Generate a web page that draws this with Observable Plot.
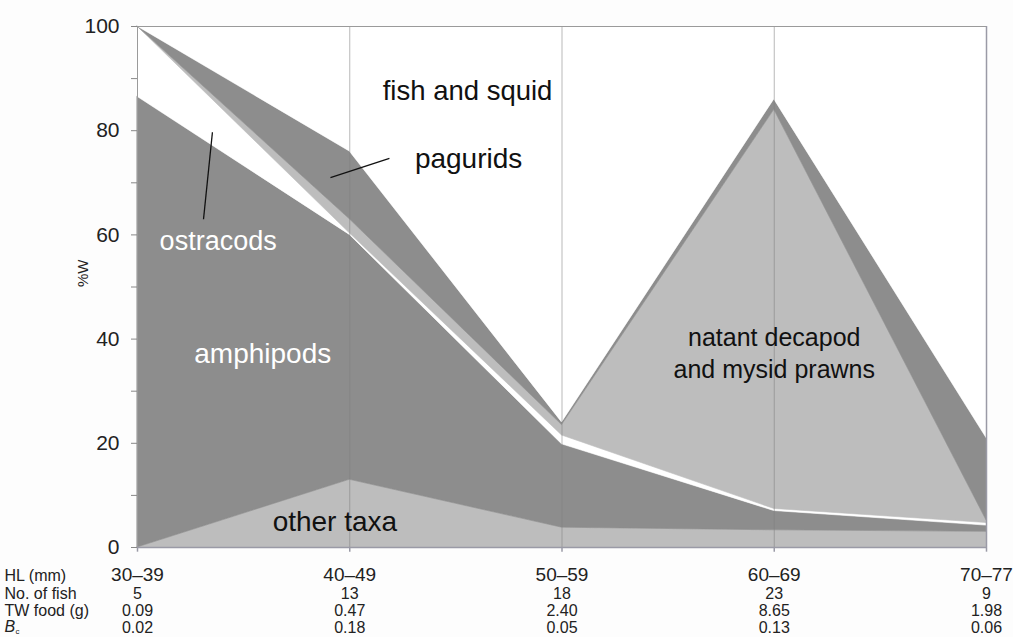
<!DOCTYPE html>
<html>
<head>
<meta charset="utf-8">
<script src="https://cdn.jsdelivr.net/npm/d3@7"></script>
<script src="https://cdn.jsdelivr.net/npm/@observablehq/plot@0.6"></script>
<style>
  html, body { margin: 0; padding: 0; background: #fdfdfd; }
  #chart svg { display: block; font-family: "Liberation Sans", Arial, Helvetica, sans-serif; }
</style>
</head>
<body>
<div id="chart"></div>
<script>
// ---- data ----
const categories = ["30–39", "40–49", "50–59", "60–69", "70–77"];
const layers = ["other taxa", "amphipods", "ostracods", "natant decapod and mysid prawns", "pagurids", "fish and squid"];
const otherTaxa = [0, 13, 3.8, 3.3, 3.0];
const amphipods = [86.5, 47, 16, 3.7, 1.2];
const ostracods = [13.5, 0.3, 1.7, 0.4, 0.5];
const natant = [0, 2.7, 2.0, 76.6, 0.5];
const pagurids = [0, 13, 0.5, 2.0, 15.8];
const fishSquid = [0, 24, 76, 14, 79];
const noOfFish = ["5", "13", "18", "23", "9"];
const twFood = ["0.09", "0.47", "2.40", "8.65", "1.98"];
const bc = ["0.02", "0.18", "0.05", "0.13", "0.06"];
const yTicks = [0, 20, 40, 60, 80, 100];
const yMinorTicks = [10, 30, 50, 70, 90];

const layerColors = ["#bdbdbd", "#8d8d8d", "#ffffff", "#bdbdbd", "#8d8d8d", "#ffffff"];

const series = [otherTaxa, amphipods, ostracods, natant, pagurids, fishSquid];
const rows = [];
layers.forEach((layer, li) => {
  categories.forEach((c, ci) => rows.push({i: ci, layer, value: series[li][ci]}));
});
const idx = categories.map((c, i) => i);

// annotation labels (x as category index, y in %W)
const labels = [
  {x: 1.555, y: 87.6, text: "fish and squid", fill: "#111", size: 27.5},
  {x: 1.56, y: 74.6, text: "pagurids", fill: "#111", size: 28},
  {x: 0.38, y: 58.8, text: "ostracods", fill: "#fff", size: 27},
  {x: 0.59, y: 37.2, text: "amphipods", fill: "#fff", size: 28},
  {x: 3.0, y: 40.2, text: "natant decapod", fill: "#111", size: 25},
  {x: 3.0, y: 34.0, text: "and mysid prawns", fill: "#111", size: 25},
  {x: 0.93, y: 4.8, text: "other taxa", fill: "#111", size: 28}
];
const leaders = [
  {x1: 0.311, y1: 63.0, x2: 0.353, y2: 79.7},
  {x1: 1.187, y1: 74.7, x2: 0.909, y2: 71.0}
];

const plot = Plot.plot({
  width: 1013,
  height: 637,
  marginLeft: 137,
  marginRight: 27,
  marginTop: 26,
  marginBottom: 90,
  style: {background: "#fdfdfd", fontFamily: "Liberation Sans, Arial, sans-serif"},
  x: {type: "linear", domain: [0, 4], axis: null},
  y: {type: "linear", domain: [0, 100], axis: null},
  color: {domain: layers, range: layerColors},
  marks: [
    Plot.areaY(rows, Plot.stackY({x: "i", y: "value", fill: "layer", order: layers, stroke: "layer", strokeWidth: 0.6})),
    // vertical gridlines
    Plot.ruleX(idx.slice(1, 4), {y1: 0, y2: 100, stroke: "#808080", strokeOpacity: 0.55, strokeWidth: 1}),
    // frame lines
    Plot.ruleY([100], {x1: 0, x2: 4, stroke: "#9a9a9a", strokeWidth: 1}),
    Plot.ruleX([0], {y1: 0, y2: 100, stroke: "#9a9a9a", strokeWidth: 1}),
    Plot.ruleX([4], {y1: 0, y2: 100, stroke: "#9a9aa6", strokeWidth: 1.5}),
    Plot.ruleY([0], {x1: 0, x2: 4, stroke: "#9a9aa6", strokeWidth: 1.5}),
    Plot.ruleX(idx, {y1: 0, y2: -0.9, stroke: "#9a9aa6", strokeWidth: 1.5}),
    // y axis
    Plot.axisY({ticks: yTicks, tickSize: 6, tickPadding: 12, fontSize: 21, stroke: "#888", fill: "#222", label: null}),
    Plot.axisY({ticks: yMinorTicks, tickSize: 6, tickFormat: () => "", stroke: "#888", label: null}),
    Plot.text(["%W"], {frameAnchor: "left", dx: -54, rotate: -90, fontSize: 15, fill: "#222"}),
    // area labels
    Plot.text(labels, {x: "x", y: "y", text: "text", fill: "fill", fontSize: d => d.size}),
    Plot.link(leaders, {x1: "x1", y1: "y1", x2: "x2", y2: "y2", stroke: "#111", strokeWidth: 1.3}),
    // table below
    Plot.text(idx, {x: d => d, frameAnchor: "bottom", dy: 33, text: d => categories[d], fontSize: 19, fill: "#222"}),
    Plot.text(idx, {x: d => d, frameAnchor: "bottom", dy: 51, text: d => noOfFish[d], fontSize: 16, fill: "#222"}),
    Plot.text(idx, {x: d => d, frameAnchor: "bottom", dy: 68, text: d => twFood[d], fontSize: 16, fill: "#222"}),
    Plot.text(idx, {x: d => d, frameAnchor: "bottom", dy: 85, text: d => bc[d], fontSize: 16, fill: "#222"}),
    Plot.text(["HL (mm)"], {frameAnchor: "bottom-left", dx: -133, dy: 33, textAnchor: "start", fontSize: 16, fill: "#222"}),
    Plot.text(["No. of fish"], {frameAnchor: "bottom-left", dx: -133, dy: 51, textAnchor: "start", fontSize: 16, fill: "#222"}),
    Plot.text(["TW food (g)"], {frameAnchor: "bottom-left", dx: -133, dy: 68, textAnchor: "start", fontSize: 16, fill: "#222"}),
    Plot.text(["B"], {frameAnchor: "bottom-left", dx: -133, dy: 84, textAnchor: "start", fontSize: 16, fontStyle: "italic", fill: "#222"}),
    Plot.text(["c"], {frameAnchor: "bottom-left", dx: -122, dy: 86, textAnchor: "start", fontSize: 8, fill: "#222"})
  ]
});
document.getElementById("chart").appendChild(plot);
</script>
</body>
</html>
